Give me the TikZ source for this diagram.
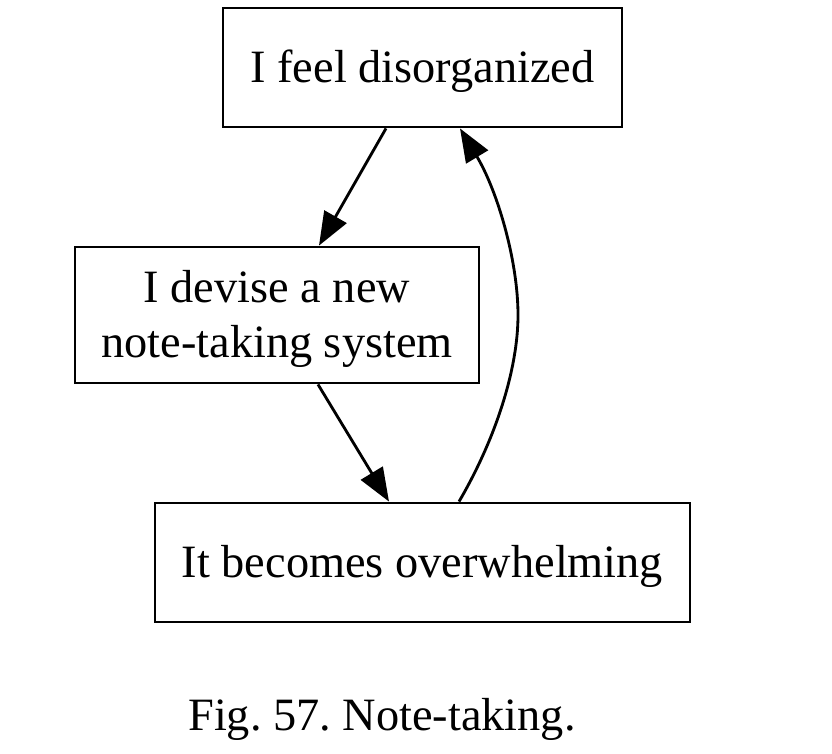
\documentclass[tikz,border=0pt]{standalone}
\usepackage{fontspec}
\setmainfont{Liberation Serif}
\usetikzlibrary{calc,arrows.meta}
\frenchspacing

\begin{document}
\begin{tikzpicture}[
    x=0.3pt, y=-0.3pt,
    step-box/.style={rectangle,draw=black,line width=0.85pt,inner sep=0pt,
                     minimum height=35.7pt},
    step-text/.style={yshift=-1.1pt,align=center,inner sep=0pt,
                      font=\fontsize{13.9}{16.5}\selectfont},
    flow/.style={line width=0.85pt,-{Triangle[length=10pt,width=7.6pt]}},
    caption/.style={font=\fontsize{13.9}{16.5}\selectfont}
]

\useasboundingbox (0,0) rectangle (832,753);

\node[step-box, minimum width=119.7pt,
      label={[step-text]center:I feel disorganized}] (disorganized) at (422.5,67.5) {};
\node[step-box, minimum width=121.2pt, minimum height=40.8pt,
      label={[step-text]center:I devise a new\\note-taking system}] (devise) at (277,315) {};
\node[step-box, minimum width=160.5pt,
      label={[step-text]center:It becomes overwhelming}] (overwhelming) at (422.5,562.5) {};

\coordinate (bend) at (518,315);

\draw[flow] ($(disorganized.south)+(-36.5,0)$) -- ($(devise.north)+(42,0)$);
\draw[flow] ($(devise.south)+(41,0)$) -- ($(overwhelming.north)+(-33.5,0)$);
\draw[flow] ($(overwhelming.north)+(36.5,0)$) .. controls (495,440) and (518,370) .. (bend)
                                         .. controls (518,260) and (497,190) .. ($(disorganized.south)+(37.5,0)$);

\node[caption] (fig) at (382,719) {Fig. 57. Note-taking.};

\end{tikzpicture}
\end{document}
